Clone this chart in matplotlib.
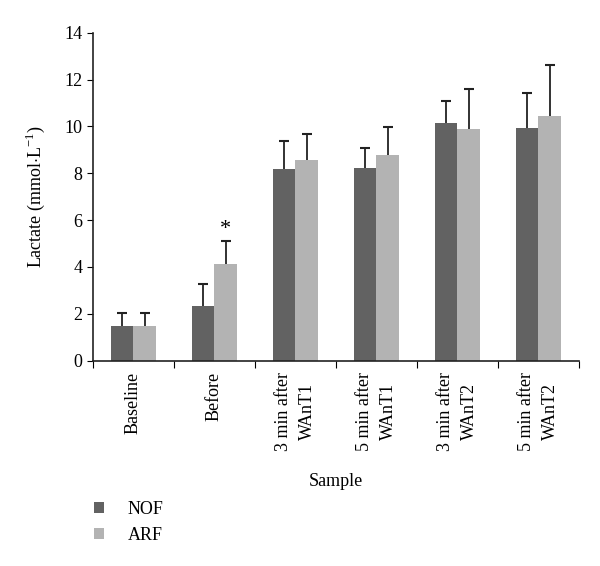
import numpy as np
import matplotlib
matplotlib.use("Agg")
import matplotlib.pyplot as plt

plt.rcParams['font.family'] = ['Liberation Serif', 'DejaVu Serif']
plt.rcParams['font.size'] = 13
plt.rcParams['mathtext.fontset'] = 'custom'
plt.rcParams['mathtext.rm'] = 'Liberation Serif'

categorias = ["Baseline", "Before", "3 min after\nWAnT1", "5 min after\nWAnT1",
              "3 min after\nWAnT2", "5 min after\nWAnT2"]
nof = [1.48, 2.32, 8.17, 8.21, 10.16, 9.94]
nof_err = [0.54, 0.97, 1.19, 0.89, 0.92, 1.47]
arf = [1.48, 4.14, 8.55, 8.76, 9.90, 10.43]
arf_err = [0.54, 0.97, 1.11, 1.23, 1.69, 2.19]

fig = plt.figure(figsize=(6, 5.66), dpi=100)
ax = fig.add_axes([0.1545, 0.3627, 0.8105, 0.5795])

x = np.arange(len(categorias))
w = 0.28
# barras de error simetricas debajo de las barras, solo se ve la parte de arriba
ax.errorbar(x - w / 2, nof, yerr=nof_err, fmt="none", ecolor="#222222",
            elinewidth=1.3, capsize=3.5, capthick=1.5, zorder=1)
ax.errorbar(x + w / 2, arf, yerr=arf_err, fmt="none", ecolor="#222222",
            elinewidth=1.3, capsize=3.5, capthick=1.5, zorder=1)
ax.bar(x - w / 2, nof, w, color="#626262", label="NOF", zorder=2)
ax.bar(x + w / 2, arf, w, color="#b3b3b3", label="ARF", zorder=2)
ax.text(x[1] + w / 2, arf[1] + arf_err[1] + 0.1, "*", ha="center", va="bottom", fontsize=16)

ax.set_xlim(-0.5, 5.5)
ax.set_ylim(0, 14)
ax.set_yticks(range(0, 15, 2))
ax.set_xticks(np.arange(-0.5, 6, 1))
ax.set_xticklabels([])
ax.set_xticks(x, minor=True)
ax.set_xticklabels(categorias, minor=True, rotation=90, va="top", ha="center",
                   linespacing=1.5)
ax.tick_params(axis="x", which="minor", length=0, pad=8)
ax.tick_params(axis="x", which="major", length=5, direction="out")
ax.tick_params(axis="y", length=4, direction="out")
for s in ["top", "right"]:
    ax.spines[s].set_visible(False)
for s in ["left", "bottom"]:
    ax.spines[s].set_color("#222222")
    ax.spines[s].set_linewidth(1.2)

ax.set_ylabel("Lactate (mmol$\\cdot$L$^{-1}$)", labelpad=12)
ax.set_xlabel("Sample", labelpad=16)

fig.legend(loc="lower left", bbox_to_anchor=(0.13, 0.01), frameon=False,
           handlelength=0.55, handleheight=0.55, handletextpad=1.3, labelspacing=0.5)

fig.savefig("out.png", dpi=100)
